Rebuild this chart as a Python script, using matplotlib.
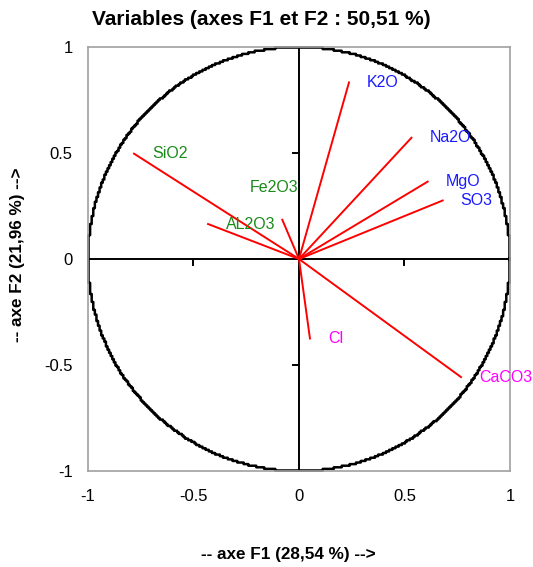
import numpy as np
import matplotlib
matplotlib.use("Agg")
import matplotlib.pyplot as plt

plt.rcParams['font.family'] = ['Liberation Sans', 'DejaVu Sans']

variables = ["K2O", "Na2O", "MgO", "SO3", "CaCO3", "Cl", "SiO2", "Fe2O3", "AL2O3"]
f1 = [0.237, 0.533, 0.610, 0.681, 0.768, 0.052, -0.782, -0.079, -0.431]
f2 = [0.833, 0.572, 0.365, 0.276, -0.557, -0.375, 0.497, 0.185, 0.165]
groups = ["blue", "blue", "blue", "blue", "magenta", "magenta", "green", "green", "green"]
ticks = [-1, -0.5, 0, 0.5, 1]
tick_labels = ["-1", "-0.5", "0", "0.5", "1"]

color_map = {"blue": "#1a1aff", "green": "#1a8a1a", "magenta": "#ff00ff"}

fig = plt.figure(figsize=(5.33, 5.67), dpi=100)
ax = fig.add_axes([0.1651, 0.1693, 0.7917, 0.7478])
ax.set_xlim(-1, 1)
ax.set_ylim(-1, 1)

for s in ax.spines.values():
    s.set_color("#a0a0a0")
    s.set_linewidth(1.2)

# stepped circle
th = np.linspace(0, 2 * np.pi, 4000)
g = 0.0075
cx = np.round(np.cos(th) / g) * g
cy = np.round(np.sin(th) / g) * g
px, py = [cx[0]], [cy[0]]
for i in range(1, len(cx)):
    if cx[i] != px[-1] or cy[i] != py[-1]:
        px.append(cx[i]); py.append(py[-1])
        px.append(cx[i]); py.append(cy[i])
ax.plot(px, py, color="black", lw=1.8, zorder=2, clip_on=False)

# zero axes
ax.axhline(0, color="black", lw=1.4, zorder=1)
ax.axvline(0, color="black", lw=1.4, zorder=1)
for t in [-0.5, 0.5]:
    ax.plot([t, t], [0, -0.03], color="black", lw=1.4, zorder=1)
    ax.plot([0, -0.03], [t, t], color="black", lw=1.4, zorder=1)

offsets = {"Fe2O3": (-8, 32, "center")}
for name, x, y, grp in zip(variables, f1, f2, groups):
    ax.plot([0, x], [0, y], color="red", lw=1.4, zorder=3)
    dx, dy, ha = offsets.get(name, (18, 0, "left"))
    ax.annotate(name, (x, y), xytext=(dx, dy), textcoords="offset pixels",
                ha=ha, va="center", fontsize=11.5, color=color_map[grp], zorder=4)

ax.set_xticks(ticks)
ax.set_xticklabels(tick_labels)
ax.set_yticks(ticks)
ax.set_yticklabels(tick_labels)
ax.tick_params(axis="both", length=0, labelsize=12)
ax.tick_params(axis="x", pad=13)
ax.tick_params(axis="y", pad=11)

fig.text(0.49, 0.965, "Variables (axes F1 et F2 : 50,51 %)", fontsize=15,
         fontweight="bold", ha="center", va="center")
ax.set_xlabel("-- axe F1 (28,54 %) -->", fontsize=12.3, fontweight="bold")
ax.xaxis.set_label_coords(0.474, -0.198)
ax.xaxis.label.set_va("center")
ax.set_ylabel("-- axe F2 (21,96 %) -->", fontsize=12.3, fontweight="bold")
ax.yaxis.set_label_coords(-0.168, 0.509)
ax.yaxis.label.set_va("center")

fig.savefig("out.png", dpi=100)
